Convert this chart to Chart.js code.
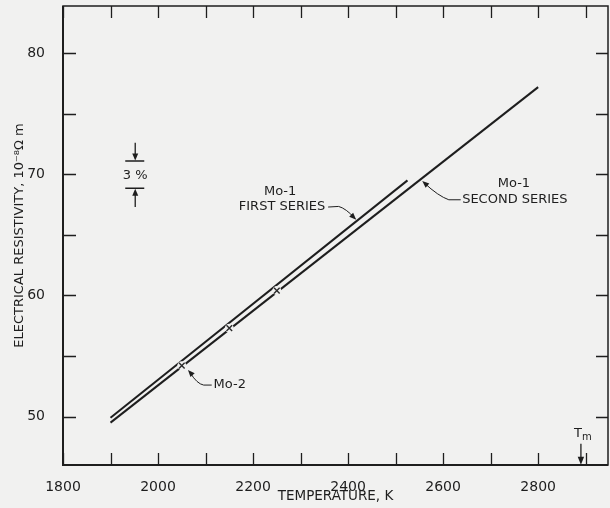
<!DOCTYPE html>
<html>
<head>
<meta charset="utf-8">
<script src="https://cdn.jsdelivr.net/npm/chart.js@4.4.1/dist/chart.umd.min.js"></script>
<style>
    html, body { margin: 0; padding: 0; background: #f1f1f0; }
    #wrap { width: 610px; height: 508px; }
</style>
</head>
<body>
<div id="wrap"><canvas id="chart" width="610" height="508"></canvas></div>
<script>
// Values: temperature (K) vs resistivity (10^-8 ohm m)
const firstSeriesT = [1900, 2525];
const firstSeriesR = [49.9, 69.5];
const secondSeriesT = [1900, 2800];
const secondSeriesR = [49.5, 77.2];
const mo2T = [2050, 2150, 2250];
const mo2R = [54.2, 57.3, 60.4];

const xTickValues = [1800, 1900, 2000, 2100, 2200, 2300, 2400, 2500, 2600, 2700, 2800, 2900];
const xTickLabels = ['1800', '2000', '2200', '2400', '2600', '2800'];
const yTickValues = [50, 55, 60, 65, 70, 75, 80];
const yTickLabels = ['50', '60', '70', '80'];
const meltingPoint = 2890;

const ink = '#1e1e1e';
const paper = '#f1f1f0';
const font = 'DejaVu Sans';

function toPoints(xs, ys) {
    return xs.map((x, i) => ({ x: x, y: ys[i] }));
}

// Filled arrow head pointing at (x2, y2), coming from (x1, y1)
function arrowHead(ctx, x1, y1, x2, y2, len, half) {
    const a = Math.atan2(y2 - y1, x2 - x1);
    const bx = x2 - len * Math.cos(a);
    const by = y2 - len * Math.sin(a);
    ctx.beginPath();
    ctx.moveTo(x2, y2);
    ctx.lineTo(bx + half * Math.sin(a), by - half * Math.cos(a));
    ctx.lineTo(bx - half * Math.sin(a), by + half * Math.cos(a));
    ctx.closePath();
    ctx.fill();
}

// Frame and inward ticks on all four sides
const framePlugin = {
    id: 'frame',
    afterDraw(chart) {
        const ctx = chart.ctx;
        const { left, right, top, bottom } = chart.chartArea;
        const xs = chart.scales.x, ys = chart.scales.y;
        ctx.save();
        ctx.strokeStyle = ink;
        ctx.lineWidth = 1.5;
        ctx.strokeRect(left, top, right - left, bottom - top);
        ctx.lineWidth = 2;
        ctx.beginPath();
        ctx.moveTo(left, top);
        ctx.lineTo(left, bottom);
        ctx.lineTo(right, bottom);
        ctx.stroke();
        ctx.lineWidth = 1.3;
        ctx.beginPath();
        xTickValues.forEach(v => {
            const px = Math.round(xs.getPixelForValue(v)) + 0.5;
            ctx.moveTo(px, bottom); ctx.lineTo(px, bottom - 12);
            ctx.moveTo(px, top); ctx.lineTo(px, top + 12);
        });
        yTickValues.forEach(v => {
            const py = Math.round(ys.getPixelForValue(v)) + 0.5;
            ctx.moveTo(left, py); ctx.lineTo(left + 13, py);
            ctx.moveTo(right, py); ctx.lineTo(right - 12, py);
        });
        ctx.stroke();
        ctx.restore();
    }
};

// Curve labels, leaders, 3 % marker and melting point arrow
const notesPlugin = {
    id: 'notes',
    afterDraw(chart) {
        const ctx = chart.ctx;
        const xs = chart.scales.x, ys = chart.scales.y;
        const X = v => xs.getPixelForValue(v);
        const Y = v => ys.getPixelForValue(v);
        ctx.save();
        ctx.fillStyle = ink;
        ctx.strokeStyle = ink;
        ctx.font = '13px "' + font + '"';
        ctx.textAlign = 'center';
        ctx.textBaseline = 'middle';

        // Mo-1 first series
        ctx.fillText('Mo-1', X(2257), Y(68.55));
        ctx.fillText('FIRST SERIES', X(2261), Y(67.3));
        ctx.lineWidth = 1;
        ctx.beginPath();
        ctx.moveTo(X(2358), Y(67.3));
        ctx.lineTo(X(2380), Y(67.35));
        ctx.quadraticCurveTo(X(2395), Y(67.2), X(2415), Y(66.35));
        ctx.stroke();
        arrowHead(ctx, X(2395), Y(67.1), X(2417), Y(66.25), 7, 2.8);

        // Mo-1 second series
        ctx.fillText('Mo-1', X(2749), Y(69.2));
        ctx.fillText('SECOND SERIES', X(2751), Y(67.9));
        ctx.beginPath();
        ctx.moveTo(X(2637), Y(67.9));
        ctx.lineTo(X(2612), Y(67.9));
        ctx.quadraticCurveTo(X(2590), Y(68.2), X(2560), Y(69.3));
        ctx.stroke();
        arrowHead(ctx, X(2585), Y(68.45), X(2556), Y(69.45), 7, 2.8);

        // Mo-2
        ctx.textAlign = 'left';
        ctx.fillText('Mo-2', X(2117), Y(52.6));
        ctx.beginPath();
        ctx.moveTo(X(2113), Y(52.6));
        ctx.lineTo(X(2096), Y(52.6));
        ctx.quadraticCurveTo(X(2082), Y(52.7), X(2068), Y(53.6));
        ctx.stroke();
        arrowHead(ctx, X(2082), Y(53.0), X(2063), Y(53.85), 7, 2.8);

        // 3 % scale marker
        ctx.textAlign = 'center';
        ctx.fillText('3 %', X(1952), Y(69.9));
        ctx.lineWidth = 1.3;
        ctx.beginPath();
        ctx.moveTo(X(1931), Y(71.1)); ctx.lineTo(X(1971), Y(71.1));
        ctx.moveTo(X(1931), Y(68.85)); ctx.lineTo(X(1971), Y(68.85));
        ctx.moveTo(X(1952), Y(72.6)); ctx.lineTo(X(1952), Y(71.6));
        ctx.moveTo(X(1952), Y(67.3)); ctx.lineTo(X(1952), Y(68.3));
        ctx.stroke();
        arrowHead(ctx, X(1952), Y(72.6), X(1952), Y(71.15), 7, 3);
        arrowHead(ctx, X(1952), Y(67.3), X(1952), Y(68.8), 7, 3);

        // Melting point
        const tx = X(meltingPoint);
        ctx.font = '13px "' + font + '"';
        ctx.fillText('T', tx - 3, Y(48.55));
        ctx.font = '10px "' + font + '"';
        ctx.fillText('m', tx + 6, Y(48.3));
        ctx.beginPath();
        ctx.moveTo(tx, Y(47.75));
        ctx.lineTo(tx, Y(46.6));
        ctx.stroke();
        arrowHead(ctx, tx, Y(47.5), tx, Y(46.02), 8, 3.2);
        ctx.restore();
    }
};

const ctx = document.getElementById('chart').getContext('2d');
const chart = new Chart(ctx, {
    type: 'line',
    data: {
        datasets: [
            {
                label: 'Mo-1 first series',
                data: toPoints(firstSeriesT, firstSeriesR),
                borderColor: ink,
                borderWidth: 2,
                pointRadius: 0,
                tension: 0,
                order: 3
            },
            {
                label: 'Mo-1 second series',
                data: toPoints(secondSeriesT, secondSeriesR),
                borderColor: ink,
                borderWidth: 2,
                pointRadius: 0,
                tension: 0,
                order: 3
            },
            {
                // paper-coloured blobs break the lines where Mo-2 points sit
                label: 'Mo-2 gap',
                data: toPoints(mo2T, mo2R),
                showLine: false,
                pointStyle: 'circle',
                pointRadius: 4.5,
                pointBorderWidth: 0,
                pointBackgroundColor: paper,
                order: 2
            },
            {
                label: 'Mo-2',
                data: toPoints(mo2T, mo2R),
                showLine: false,
                pointStyle: 'crossRot',
                pointRadius: 4,
                pointBorderWidth: 1.4,
                pointBorderColor: '#2a2a2a',
                borderColor: '#2a2a2a',
                order: 1
            }
        ]
    },
    options: {
        responsive: false,
        devicePixelRatio: 1,
        animation: false,
        layout: { autoPadding: false, padding: { top: 6, right: 2, left: 0, bottom: 0 } },
        plugins: {
            legend: { display: false },
            tooltip: { enabled: false }
        },
        scales: {
            x: {
                type: 'linear',
                min: 1800,
                max: 2947,
                grid: { display: false },
                border: { display: false },
                afterBuildTicks: scale => {
                    scale.ticks = xTickValues.map(v => ({ value: v }));
                },
                afterFit: scale => {
                    scale.height = 43;
                    scale.paddingLeft = 0;
                    scale.paddingRight = 0;
                },
                ticks: {
                    color: ink,
                    padding: 6,
                    maxRotation: 0,
                    autoSkip: false,
                    font: { family: font, size: 14 },
                    callback: v => xTickLabels.includes(String(v)) ? String(v) : ''
                },
                title: {
                    display: true,
                    text: 'TEMPERATURE, K',
                    color: ink,
                    font: { family: font, size: 13.5 },
                    padding: { top: 0, bottom: 3 }
                }
            },
            y: {
                type: 'linear',
                min: 46,
                max: 83.9,
                grid: { display: false },
                border: { display: false },
                afterBuildTicks: scale => {
                    scale.ticks = yTickValues.map(v => ({ value: v }));
                },
                afterFit: scale => {
                    scale.width = 63;
                    scale.paddingTop = 0;
                    scale.paddingBottom = 0;
                },
                ticks: {
                    color: ink,
                    padding: 10,
                    autoSkip: false,
                    font: { family: font, size: 14 },
                    callback: v => yTickLabels.includes(String(v)) ? String(v) : ''
                },
                title: {
                    display: true,
                    text: 'ELECTRICAL RESISTIVITY, 10⁻⁸Ω m',
                    color: ink,
                    font: { family: font, size: 13 },
                    padding: { top: 12, bottom: 0 }
                }
            }
        }
    },
    plugins: [framePlugin, notesPlugin]
});
</script>
</body>
</html>
